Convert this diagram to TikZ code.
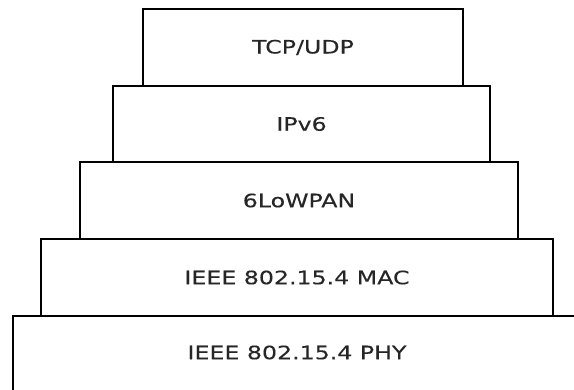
\documentclass[tikz,border=0pt]{standalone}
\usepackage{fontspec}
\setmainfont{DejaVu Sans}
\newfontfamily\layerfont[FakeStretch=1.28, FakeBold=0.2]{DejaVu Sans}
\usetikzlibrary{positioning}

\begin{document}
\begin{tikzpicture}[
        x=1pt, y=-1pt,
        layer/.style={rectangle, draw, line width=1.5pt, inner sep=0pt,
                      font=\layerfont\fontsize{18.5}{21}\selectfont, text=black!85}
    ]

    %% ---- page frame ----
    \clip (0,0) rectangle (574,390);

    %% ---- protocol layers, top to bottom ----
    \node[layer, minimum width=320pt, minimum height=77pt] (tcp)  at (303,47.5)  {TCP/UDP};
    \node[layer, minimum width=377pt, minimum height=76pt] (ipv6) at (301.5,124) {IPv6};
    \node[layer, minimum width=438pt, minimum height=77pt] (lowpan) at (299,200.5) {6LoWPAN};
    \node[layer, minimum width=512pt, minimum height=77pt] (mac)  at (297,277.5) {IEEE 802.15.4 MAC};
    \node[layer, minimum width=590pt, minimum height=84pt] (phy)  at (308,358) {};

    %% ---- text of the cut-off bottom layer ----
    \node[font=\layerfont\fontsize{18.5}{21}\selectfont, text=black!85] (phytext) at (297,352.5) {IEEE 802.15.4 PHY};

\end{tikzpicture}
\end{document}
